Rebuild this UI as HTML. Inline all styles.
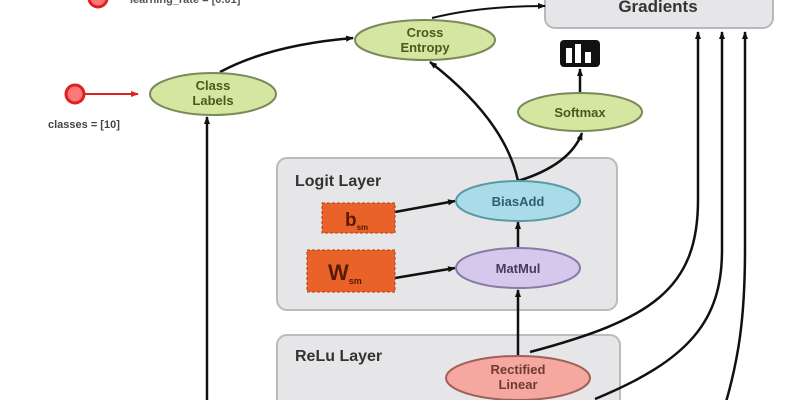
<!DOCTYPE html>
<html><head><style>body{margin:0;background:#fff}svg{display:block}text{font-family:"Liberation Sans",sans-serif;font-weight:bold}</style></head><body>
<svg width="800" height="400" viewBox="0 0 800 400">
<defs><marker id="a" markerWidth="8" markerHeight="8" refX="7" refY="4" orient="auto" markerUnits="userSpaceOnUse"><path d="M0,1 L8,4 L0,7z" fill="#111"/></marker>
<marker id="r" markerWidth="8" markerHeight="8" refX="7" refY="4" orient="auto" markerUnits="userSpaceOnUse"><path d="M0,1 L8,4 L0,7z" fill="#d22"/></marker></defs>
<rect x="545" y="-12" width="228" height="40" rx="10" fill="#e6e6e9" stroke="#b8b8bc" stroke-width="2"/>
<text x="658" y="12" font-size="17" text-anchor="middle" fill="#333">Gradients</text>
<circle cx="98" cy="-2" r="9" fill="#f77" stroke="#d22" stroke-width="3"/>
<text x="130" y="3" font-size="11" fill="#555">learning_rate = [0.01]</text>
<path d="M432,18 Q480,6 545,6" fill="none" stroke="#111" stroke-width="2" marker-end="url(#a)"/>
<rect x="277" y="158" width="340" height="152" rx="10" fill="#e6e6e9" stroke="#bbb" stroke-width="2"/>
<text x="295" y="186" font-size="16" fill="#333">Logit Layer</text>
<rect x="277" y="335" width="343" height="80" rx="10" fill="#e6e6e9" stroke="#bbb" stroke-width="2"/>
<text x="295" y="361" font-size="16" fill="#333">ReLu Layer</text>
<g fill="none" stroke="#111" stroke-width="2.5">
<path d="M207,400 L207,117" marker-end="url(#a)"/>
<path d="M530,352 C650,320 698,290 698,200 L698,32" marker-end="url(#a)"/>
<path d="M595,399 C690,360 722,320 722,250 L722,32" marker-end="url(#a)"/>
<path d="M726,402 C738,360 745,320 745,250 L745,32" marker-end="url(#a)"/>
<path d="M220,72 Q270,45 353,38" marker-end="url(#a)"/>
<path d="M518,181 Q505,120 430,62" marker-end="url(#a)"/>
<path d="M518,181 Q570,165 582,133" marker-end="url(#a)"/>
<path d="M580,92 L580,69" marker-end="url(#a)"/>
<path d="M518,248 L518,222" marker-end="url(#a)"/>
<path d="M518,356 L518,290" marker-end="url(#a)"/>
<path d="M518,400 L518,400"/>
<path d="M395,212 L455,201" marker-end="url(#a)"/>
<path d="M395,278 L455,268" marker-end="url(#a)"/>
</g>
<circle cx="75" cy="94" r="9" fill="#f77" stroke="#d22" stroke-width="3"/>
<path d="M84,94 L138,94" stroke="#d22" stroke-width="2" marker-end="url(#r)"/>
<text x="48" y="128" font-size="11" fill="#444">classes = [10]</text>
<g stroke-width="2" font-size="13" text-anchor="middle">
<ellipse cx="425" cy="40" rx="70" ry="20" fill="#d4e6a0" stroke="#7a8a5a"/>
<text x="425" y="37" fill="#4a5a20">Cross</text><text x="425" y="52" fill="#4a5a20">Entropy</text>
<ellipse cx="213" cy="94" rx="63" ry="21" fill="#d4e6a0" stroke="#7a8a5a"/>
<text x="213" y="90" fill="#4a5a20">Class</text><text x="213" y="105" fill="#4a5a20">Labels</text>
<ellipse cx="580" cy="112" rx="62" ry="19" fill="#d4e6a0" stroke="#7a8a5a"/>
<text x="580" y="117" fill="#4a5a20">Softmax</text>
<ellipse cx="518" cy="201" rx="62" ry="20" fill="#a9dbe8" stroke="#5a9aa8"/>
<text x="518" y="206" fill="#2a6070">BiasAdd</text>
<ellipse cx="518" cy="268" rx="62" ry="20" fill="#d6c8ec" stroke="#8a7aa8"/>
<text x="518" y="273" fill="#443a60">MatMul</text>
<ellipse cx="518" cy="378" rx="72" ry="22" fill="#f4a8a0" stroke="#a06058"/>
<text x="518" y="374" fill="#703a30">Rectified</text><text x="518" y="389" fill="#703a30">Linear</text>
</g>
<rect x="560" y="40" width="40" height="27" rx="4" fill="#111"/>
<rect x="566" y="48" width="6" height="15" fill="#fff"/><rect x="575" y="44" width="6" height="19" fill="#fff"/><rect x="585" y="52" width="6" height="11" fill="#fff"/>
<rect x="322" y="203" width="73" height="30" fill="#e8622a" stroke="#b04010" stroke-dasharray="3,2"/>
<text x="345" y="226" font-size="19" fill="#5a1a00">b<tspan font-size="8" dy="4">sm</tspan></text>
<rect x="307" y="250" width="88" height="42" fill="#e8622a" stroke="#b04010" stroke-dasharray="3,2"/>
<text x="328" y="280" font-size="22" fill="#5a1a00">W<tspan font-size="9" dy="4">sm</tspan></text>
</svg>
</body></html>
